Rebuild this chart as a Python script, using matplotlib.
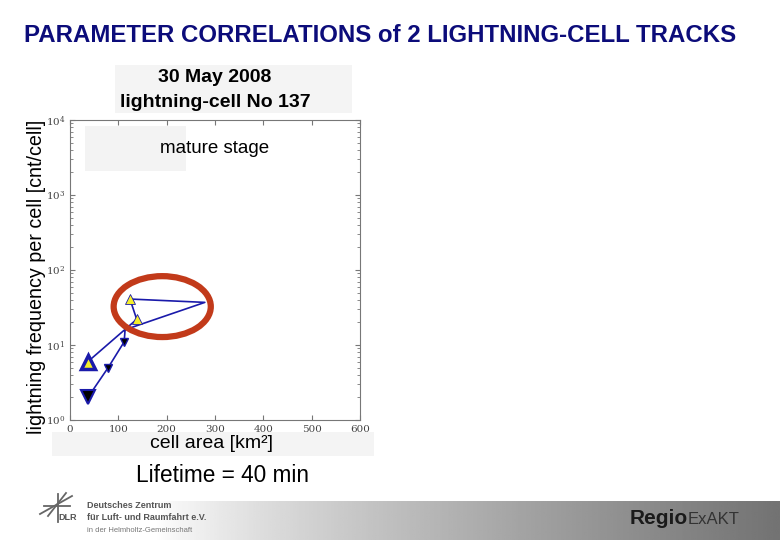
import matplotlib
matplotlib.use('Agg')
import matplotlib.pyplot as plt
import numpy as np
from matplotlib.patches import Ellipse, Rectangle

plt.rcParams['font.family'] = ['Liberation Sans', 'DejaVu Sans']

# track of lightning-cell 137, in time order
area = [37, 79, 112, 114, 279, 124, 138, 37]
freq = [2.0, 5.0, 11.0, 16.0, 37.0, 41.0, 22.0, 6.0]

# markers along the track
down_area = [79, 112]
down_freq = [5.0, 11.0]
up_area = [124, 138]
up_freq = [41.0, 22.0]
start_pt = (37, 2.0)
end_pt = (37, 6.0)

title = 'PARAMETER CORRELATIONS of 2 LIGHTNING-CELL TRACKS'
cell_title = '30 May 2008\nlightning-cell No 137'
xticks = [0, 100, 200, 300, 400, 500, 600]

W, H = 780, 540
fig = plt.figure(figsize=(W / 100, H / 100), dpi=100)
fig.patch.set_facecolor('white')

def fx(px):
    return px / W

def fy(py):
    return 1 - py / H

# footer gradient band
bg = fig.add_axes([0, 0, 1, 1], zorder=-5)
bg.set_xlim(0, W)
bg.set_ylim(H, 0)
bg.axis('off')
grad = np.clip((np.linspace(0, 1, 400) - 0.2) / 0.8, 0, 1) ** 0.8
img = 1 - 0.55 * grad
bg.imshow(np.tile(img, (2, 1)), cmap='gray', vmin=0, vmax=1, aspect='auto',
          extent=[0, W, 540, 501])
# gray boxes behind slide texts
bg.add_patch(Rectangle((115, 65), 237, 48, color='#f4f4f4', lw=0))
bg.add_patch(Rectangle((52, 432), 322, 24, color='#f4f4f4', lw=0))
# rough DLR emblem
bg.plot([40, 72], [514, 496], color='#666666', lw=1.3)
bg.plot([44, 70], [506, 506], color='#666666', lw=1.3)
bg.plot([48, 66], [516, 493], color='#666666', lw=1.3)
bg.plot([58, 58], [494, 522], color='#666666', lw=1.3)

fig.text(fx(380), fy(36), title, ha='center', va='center', fontsize=17.3,
         fontweight='bold', color='#0c0c7a')
fig.text(fx(215), fy(90), cell_title, ha='center', va='center', fontsize=14,
         fontweight='bold', linespacing=1.6)
fig.text(fx(37), fy(277), 'lightning frequency per cell [cnt/cell]', rotation=90,
         ha='center', va='center', fontsize=14.2)
fig.text(fx(212), fy(444), 'cell area [km²]', ha='center', va='center', fontsize=14)
fig.text(fx(222), fy(476), 'Lifetime = 40 min', ha='center', va='center', fontsize=16.3)

# footer texts
fig.text(fx(68), fy(518), 'DLR', ha='center', va='center', fontsize=6.5,
         fontweight='bold', color='#555555')
fig.text(fx(87), fy(506), 'Deutsches Zentrum', ha='left', va='center', fontsize=6.5,
         fontweight='bold', color='#555555')
fig.text(fx(87), fy(518), 'für Luft- und Raumfahrt e.V.', ha='left', va='center',
         fontsize=6.5, fontweight='bold', color='#555555')
fig.text(fx(87), fy(530), 'in der Helmholtz-Gemeinschaft', ha='left', va='center',
         fontsize=5.5, color='#777777')
fig.text(fx(630), fy(519), 'Regio', ha='left', va='center', fontsize=15,
         fontweight='bold', color='#1a1a1a')
fig.text(fx(688), fy(519), 'ExAKT', ha='left', va='center', fontsize=12,
         color='#333333')

ax = fig.add_axes([fx(70), fy(420), fx(290), 300 / H])
ax.set_yscale('log')
ax.set_xlim(0, 600)
ax.set_ylim(1, 1e4)
ax.set_xticks(xticks)
ax.tick_params(which='both', direction='in', top=True, right=True, labelsize=7.5,
               labelcolor='#444444', color='#777777')
for lab in ax.get_xticklabels() + ax.get_yticklabels():
    lab.set_family('DejaVu Serif')
for sp in ax.spines.values():
    sp.set_color('#777777')

ax.add_patch(Rectangle((0.05, 0.83), 0.35, 0.15, transform=ax.transAxes,
                       color='#f3f3f3', lw=0, zorder=0))
ax.text(0.5, 0.905, 'mature stage', transform=ax.transAxes, ha='center',
        va='center', fontsize=13.5)

ax.plot(area, freq, color='#1a1aaa', lw=1.2, zorder=2)
ax.plot(down_area, down_freq, 'v', color='black', ms=6, mec='#1a1aaa', zorder=3)
ax.plot(*start_pt, 'v', color='black', ms=10, mec='#1a1aaa', mew=1.5, zorder=3)
ax.plot(up_area, up_freq, '^', color='#f4ee2a', ms=7, mec='#1a1aaa', mew=0.6, zorder=3)
ax.plot(*end_pt, '^', color='#f4ee2a', ms=10, mec='#1a1aaa', mew=2.5, zorder=3)

# highlight of the mature stage
ell = Ellipse((0.318, 0.378), 0.335, 0.203, transform=ax.transAxes, fill=False,
              ec='#c23a1a', lw=4.5, zorder=4)
ax.add_patch(ell)

fig.savefig('out.png', dpi=100)
